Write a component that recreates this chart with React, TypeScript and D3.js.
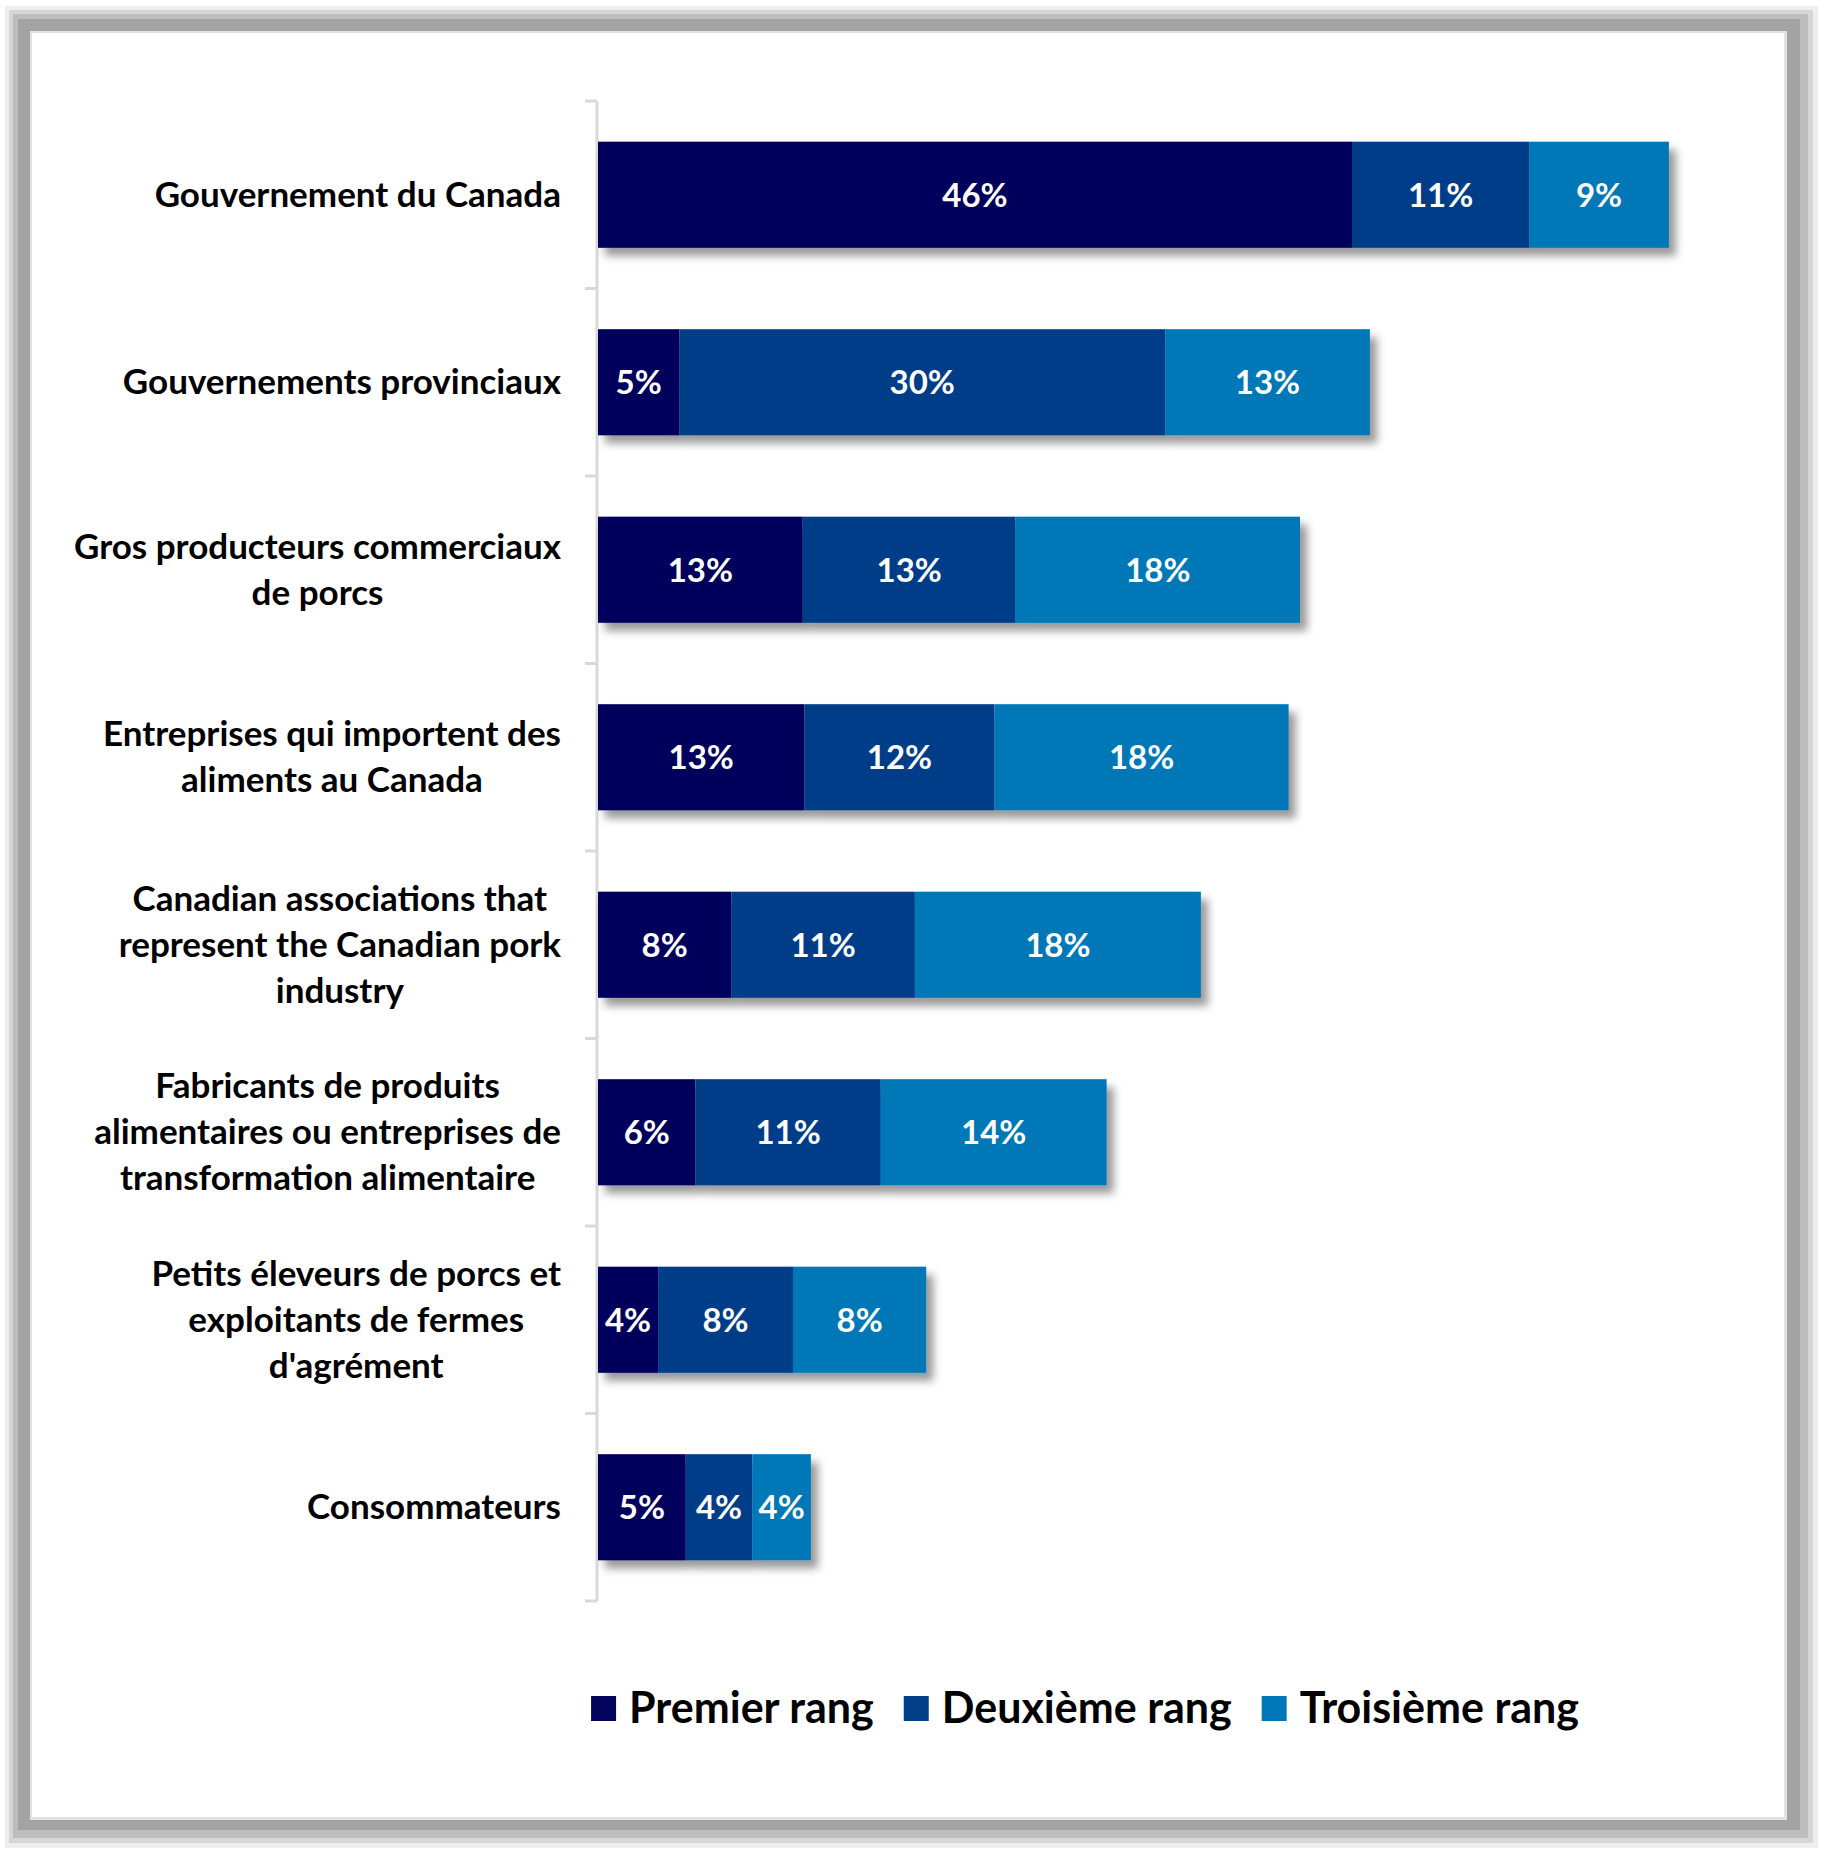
import React, { useEffect, useRef } from "react";
import * as d3 from "d3";

const categories = [
  "Gouvernement du Canada",
  "Gouvernements provinciaux",
  "Gros producteurs commerciaux de porcs",
  "Entreprises qui importent des aliments au Canada",
  "Canadian associations that represent the Canadian pork industry",
  "Fabricants de produits alimentaires ou entreprises de transformation alimentaire",
  "Petits éleveurs de porcs et exploitants de fermes d'agrément",
  "Consommateurs",
];

const categoryLines = [
  ["Gouvernement du Canada"],
  ["Gouvernements provinciaux"],
  ["Gros producteurs commerciaux", "de porcs"],
  ["Entreprises qui importent des", "aliments au Canada"],
  ["Canadian associations that", "represent the Canadian pork", "industry"],
  ["Fabricants de produits", "alimentaires ou entreprises de", "transformation alimentaire"],
  ["Petits éleveurs de porcs et", "exploitants de fermes", "d'agrément"],
  ["Consommateurs"],
];

const premierRang = [46.4, 5.0, 12.6, 12.7, 8.2, 6.0, 3.7, 5.4];
const deuxiemeRang = [10.9, 29.9, 13.1, 11.7, 11.3, 11.4, 8.3, 4.1];
const troisiemeRang = [8.6, 12.6, 17.5, 18.1, 17.6, 13.9, 8.2, 3.6];

const seriesKeys = ["premier", "deuxieme", "troisieme"];
const seriesNames = ["Premier rang", "Deuxième rang", "Troisième rang"];
const seriesColors = ["#03065c", "#023e88", "#0077b6"];

const FONT = "Lato, 'Open Sans', sans-serif";

export default function App() {
  const ref = useRef<SVGSVGElement | null>(null);

  useEffect(() => {
    const svg = d3.select(ref.current);
    svg.selectAll("*").remove();

    const defs = svg.append("defs");
    const f = defs
      .append("filter")
      .attr("id", "barShadow")
      .attr("x", "-5%")
      .attr("y", "-20%")
      .attr("width", "115%")
      .attr("height", "150%");
    f.append("feDropShadow")
      .attr("dx", 7)
      .attr("dy", 8)
      .attr("stdDeviation", 4)
      .attr("flood-color", "#000")
      .attr("flood-opacity", 0.4);

    // frame
    const frame = [
      { x0: 5, y0: 6, x1: 1818, y1: 1848, c: "#eeeeee" },
      { x0: 9, y0: 10, x1: 1813, y1: 1843, c: "#d6d6d6" },
      { x0: 13, y0: 14, x1: 1808, y1: 1838, c: "#bdbdbd" },
      { x0: 18, y0: 19, x1: 1800, y1: 1830, c: "#a3a3a3" },
      { x0: 30, y0: 31, x1: 1787, y1: 1820, c: "#e2e2e2" },
      { x0: 32, y0: 33, x1: 1784, y1: 1817, c: "#ffffff" },
    ];
    svg
      .append("g")
      .selectAll("rect")
      .data(frame)
      .join("rect")
      .attr("x", (d) => d.x0)
      .attr("y", (d) => d.y0)
      .attr("width", (d) => d.x1 - d.x0)
      .attr("height", (d) => d.y1 - d.y0)
      .attr("fill", (d) => d.c);

    const x = d3
      .scaleLinear()
      .domain([0, 70])
      .range([598, 598 + 70 * 16.25]);
    const y = d3
      .scaleBand<string>()
      .domain(categories)
      .range([101, 1601])
      .paddingInner(0.434)
      .paddingOuter(0.217);

    const rows = categories.map((c, i) => ({
      cat: c,
      premier: premierRang[i],
      deuxieme: deuxiemeRang[i],
      troisieme: troisiemeRang[i],
    }));
    const stacked = d3.stack<any>().keys(seriesKeys)(rows);

    // axis line and ticks
    const axisG = svg.append("g");
    axisG
      .append("line")
      .attr("x1", 597)
      .attr("x2", 597)
      .attr("y1", 101)
      .attr("y2", 1601)
      .attr("stroke", "#d9d9d9")
      .attr("stroke-width", 3);
    const boundaries = d3.range(categories.length + 1).map((i) => 101 + i * y.step());
    axisG
      .selectAll("line.tick")
      .data(boundaries)
      .join("line")
      .attr("class", "tick")
      .attr("x1", 585)
      .attr("x2", 597)
      .attr("y1", (d) => d)
      .attr("y2", (d) => d)
      .attr("stroke", "#d9d9d9")
      .attr("stroke-width", 3);

    // bars
    const barsG = svg.append("g");
    categories.forEach((c, i) => {
      const g = barsG.append("g").attr("filter", "url(#barShadow)");
      stacked.forEach((s, si) => {
        const d = s[i];
        g.append("rect")
          .attr("x", x(d[0]))
          .attr("y", y(c)!)
          .attr("width", x(d[1]) - x(d[0]))
          .attr("height", y.bandwidth())
          .attr("fill", seriesColors[si]);
      });
    });

    // value labels
    const labG = svg.append("g");
    categories.forEach((c, i) => {
      stacked.forEach((s) => {
        const d = s[i];
        const v = d[1] - d[0];
        labG
          .append("text")
          .attr("x", (x(d[0]) + x(d[1])) / 2)
          .attr("y", y(c)! + y.bandwidth() / 2 + 12)
          .attr("text-anchor", "middle")
          .attr("font-family", FONT)
          .attr("font-weight", 700)
          .attr("font-size", 33)
          .attr("fill", "#ffffff")
          .text(`${Math.round(v)}%`);
      });
    });

    // category labels
    const catG = svg.append("g");
    const rightEdge = 561;
    const lineH = 46;
    categories.forEach((c, i) => {
      const lines = categoryLines[i];
      const cy = y(c)! + y.bandwidth() / 2;
      const texts = lines.map((ln, li) =>
        catG
          .append("text")
          .attr("y", cy + (li - (lines.length - 1) / 2) * lineH + 12)
          .attr("text-anchor", "middle")
          .attr("font-family", FONT)
          .attr("font-weight", 700)
          .attr("font-size", 35)
          .attr("fill", "#000")
          .text(ln)
      );
      const maxW = d3.max(texts, (t) => (t.node() as SVGTextElement).getComputedTextLength()) || 0;
      texts.forEach((t) => t.attr("x", rightEdge - maxW / 2));
    });

    // legend
    const legG = svg.append("g");
    const items = seriesNames.map((name, i) => {
      const g = legG.append("g");
      g.append("rect")
        .attr("x", 0)
        .attr("y", -25)
        .attr("width", 25)
        .attr("height", 25)
        .attr("fill", seriesColors[i]);
      const t = g
        .append("text")
        .attr("x", 38)
        .attr("y", 2)
        .attr("font-family", FONT)
        .attr("font-weight", 700)
        .attr("font-size", 43)
        .attr("fill", "#000")
        .text(name);
      const w = 38 + (t.node() as SVGTextElement).getComputedTextLength();
      return { g, w };
    });
    const gap = 30;
    const total = d3.sum(items, (d) => d.w) + gap * (items.length - 1);
    let cx = 1085 - total / 2;
    items.forEach((it) => {
      it.g.attr("transform", `translate(${cx},1721)`);
      cx += it.w + gap;
    });
  }, []);

  return (
    <svg
      ref={ref}
      width={1824}
      height={1851}
      style={{ position: "absolute", left: 0, top: 0, background: "#fff" }}
    />
  );
}
